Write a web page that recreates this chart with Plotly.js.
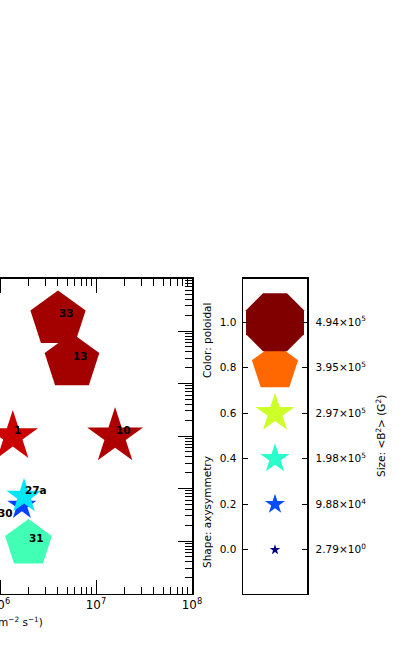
<!DOCTYPE html>
<html>
<head>
<meta charset="utf-8">
<script src="https://cdn.plot.ly/plotly-3.0.1.min.js"></script>
<style>
  html, body { margin: 0; padding: 0; background: #fff; overflow: hidden; }
  /* the figure is wider than the window: its left part falls outside the view */
  #chart { position: absolute; left: -256px; top: 0; width: 660px; height: 670px; }
</style>
</head>
<body>
<div id="chart"></div>
<script>
// --- data ---
const names    = ["33", "13", "1", "10", "30", "27a", "31"];
const flux     = [4.02e6, 5.62e6, 1.36e6, 1.58e7, 1.69e6, 1.78e6, 1.98e6];
const yvals    = [1.66e4, 2.57e3, 98, 98, 4.74, 7.05, 0.895];
const poloidal = [0.97, 0.97, 0.935, 0.96, 0.19, 0.35, 0.43];
const axisym   = [0.8, 0.8, 0.5, 0.55, 0.3, 0.4, 0.8];
const bsq      = [4.94e5, 4.88e5, 4.15e5, 4.72e5, 1.94e5, 2.55e5, 4.01e5];

// key panel
const keyLevels = [0.0, 0.2, 0.4, 0.6, 0.8, 1.0];
const keyLevelText = ["0.0", "0.2", "0.4", "0.6", "0.8", "1.0"];
const keyBsq = [2.79, 9.88e4, 1.98e5, 2.97e5, 3.95e5, 4.94e5];

// matplotlib "jet"
const jet = [
  [0, "rgb(0,0,128)"], [0.11, "rgb(0,0,255)"], [0.125, "rgb(0,0,255)"],
  [0.34, "rgb(0,219,255)"], [0.35, "rgb(0,229,247)"], [0.375, "rgb(20,255,226)"],
  [0.64, "rgb(238,255,8)"], [0.65, "rgb(247,245,0)"], [0.66, "rgb(255,236,0)"],
  [0.89, "rgb(255,19,0)"], [0.91, "rgb(232,0,0)"], [1, "rgb(128,0,0)"]
];

const bMin = Math.min(...keyBsq), bMax = Math.max(...keyBsq);

function symbolFor(a) {
  if (a >= 0.9) return "octagon";
  if (a >= 0.7) return "pentagon";
  return "star";
}
// outer radius / marker size for each plotly symbol
const shapeFactor = { star: 0.7, pentagon: 0.525, octagon: 0.486 };

function sizeFor(b, sym) {
  const radius = 5.5 + 25 * (b - bMin) / (bMax - bMin);
  return radius / shapeFactor[sym];
}

function sciLabel(v) {
  const e = Math.floor(Math.log10(v));
  const m = v / Math.pow(10, e);
  return m.toFixed(2) + "×10<sup>" + e + "</sup>";
}

const font = "DejaVu Sans, sans-serif";
const ink = "#000000";
const W = 660, H = 670;
const px = v => v / W;           // div x -> paper x
const py = v => (H - v) / H;     // page y -> paper y

const mainSyms = axisym.map(symbolFor);
const keySyms = keyLevels.map(symbolFor);

const traces = [
  {
    type: "scatter", mode: "markers",
    x: flux, y: yvals, xaxis: "x", yaxis: "y",
    marker: {
      symbol: mainSyms,
      size: bsq.map((b, i) => sizeFor(b, mainSyms[i])),
      color: poloidal, colorscale: jet, cmin: 0, cmax: 1,
      line: { width: 0 }, opacity: 1
    },
    hoverinfo: "skip", showlegend: false
  },
  {
    type: "scatter", mode: "markers",
    x: keyLevels.map(() => 0.5), y: keyLevels, xaxis: "x2", yaxis: "y2",
    marker: {
      symbol: keySyms,
      size: keyBsq.map((b, i) => sizeFor(b, keySyms[i])),
      color: keyLevels, colorscale: jet, cmin: 0, cmax: 1,
      line: { width: 0 }, opacity: 1
    },
    hoverinfo: "skip", showlegend: false
  },
  // keeps the right-hand size axis alive
  {
    type: "scatter", mode: "markers",
    x: [0.5], y: [keyLevels[0]], xaxis: "x2", yaxis: "y3",
    marker: { opacity: 0, size: 1 },
    hoverinfo: "skip", showlegend: false
  }
];

const tickFont = { family: font, size: 10.5, color: ink };
const frame = { showline: true, linecolor: ink, linewidth: 1.5, showgrid: false, zeroline: false };

// point labels
const annotations = names.map((n, i) => {
  const a = {
    x: Math.log10(flux[i]), y: Math.log10(yvals[i]), xref: "x", yref: "y",
    text: "<b>" + n + "</b>", showarrow: false,
    font: { family: font, size: 10.5, color: ink },
    xanchor: "left", yanchor: "middle", xshift: -1, yshift: 6
  };
  if (n === "30") { a.xanchor = "right"; a.xshift = -7; a.yshift = -7; }
  return a;
});

annotations.push(
  { text: "Flux (cm<sup>−2</sup> s<sup>−1</sup>)", xref: "paper", yref: "paper",
    x: px(301), y: py(621), xanchor: "right", yanchor: "middle", showarrow: false,
    font: { family: font, size: 10.5, color: ink } },
  { text: "Color: poloidal", xref: "paper", yref: "paper", textangle: -90,
    x: px(463), y: py(341), xanchor: "center", yanchor: "middle", showarrow: false,
    font: { family: font, size: 10.5, color: ink } },
  { text: "Shape: axysymmetry", xref: "paper", yref: "paper", textangle: -90,
    x: px(463), y: py(512), xanchor: "center", yanchor: "middle", showarrow: false,
    font: { family: font, size: 10.5, color: ink } },
  { text: "Size: &lt;B<sup>2</sup>&gt; (G<sup>2</sup>)", xref: "paper", yref: "paper", textangle: -90,
    x: px(636), y: py(436), xanchor: "center", yanchor: "middle", showarrow: false,
    font: { family: font, size: 10.5, color: ink } }
);

const yDom = [py(593.5), py(278.5)];

const layout = {
  width: W, height: H,
  margin: { l: 0, r: 0, t: 0, b: 0, pad: 0 },
  paper_bgcolor: "#fff", plot_bgcolor: "#fff",
  font: { family: font, color: ink },
  showlegend: false,
  xaxis: Object.assign({}, frame, {
    type: "log", range: [4, 8], domain: [px(64), px(448)], anchor: "y",
    dtick: 1, exponentformat: "power", mirror: "allticks",
    ticks: "inside", ticklen: 14, tickwidth: 1, tickcolor: ink,
    tickfont: { family: font, size: 9.5, color: ink },
    minor: { ticks: "inside", ticklen: 7, tickwidth: 1, tickcolor: ink, dtick: "D1" }
  }),
  yaxis: Object.assign({}, frame, {
    type: "log", range: [-1, 5], domain: yDom, anchor: "x",
    dtick: 1, exponentformat: "power", mirror: "allticks",
    ticks: "inside", ticklen: 14, tickwidth: 1, tickcolor: ink, tickfont: tickFont,
    minor: { ticks: "inside", ticklen: 7, tickwidth: 1, tickcolor: ink, dtick: "D1" }
  }),
  xaxis2: Object.assign({}, frame, {
    range: [0, 1], domain: [px(499), px(563)], anchor: "y2",
    mirror: true, showticklabels: false, ticks: ""
  }),
  yaxis2: Object.assign({}, frame, {
    range: [-0.192, 1.192], domain: yDom, anchor: "x2", mirror: true,
    tickmode: "array", tickvals: keyLevels, ticktext: keyLevelText,
    ticks: "inside", ticklen: 5, tickwidth: 1, tickcolor: ink, tickfont: tickFont,
    ticklabelstandoff: 3
  }),
  yaxis3: Object.assign({}, frame, {
    range: [-0.192, 1.192], overlaying: "y2", anchor: "x2", side: "right",
    tickmode: "array", tickvals: keyLevels, ticktext: keyBsq.map(sciLabel),
    ticks: "inside", ticklen: 5, tickwidth: 1, tickcolor: ink, tickfont: tickFont,
    ticklabelstandoff: 5
  }),
  annotations: annotations
};

Plotly.newPlot("chart", traces, layout, { staticPlot: true, displayModeBar: false });
</script>
</body>
</html>
